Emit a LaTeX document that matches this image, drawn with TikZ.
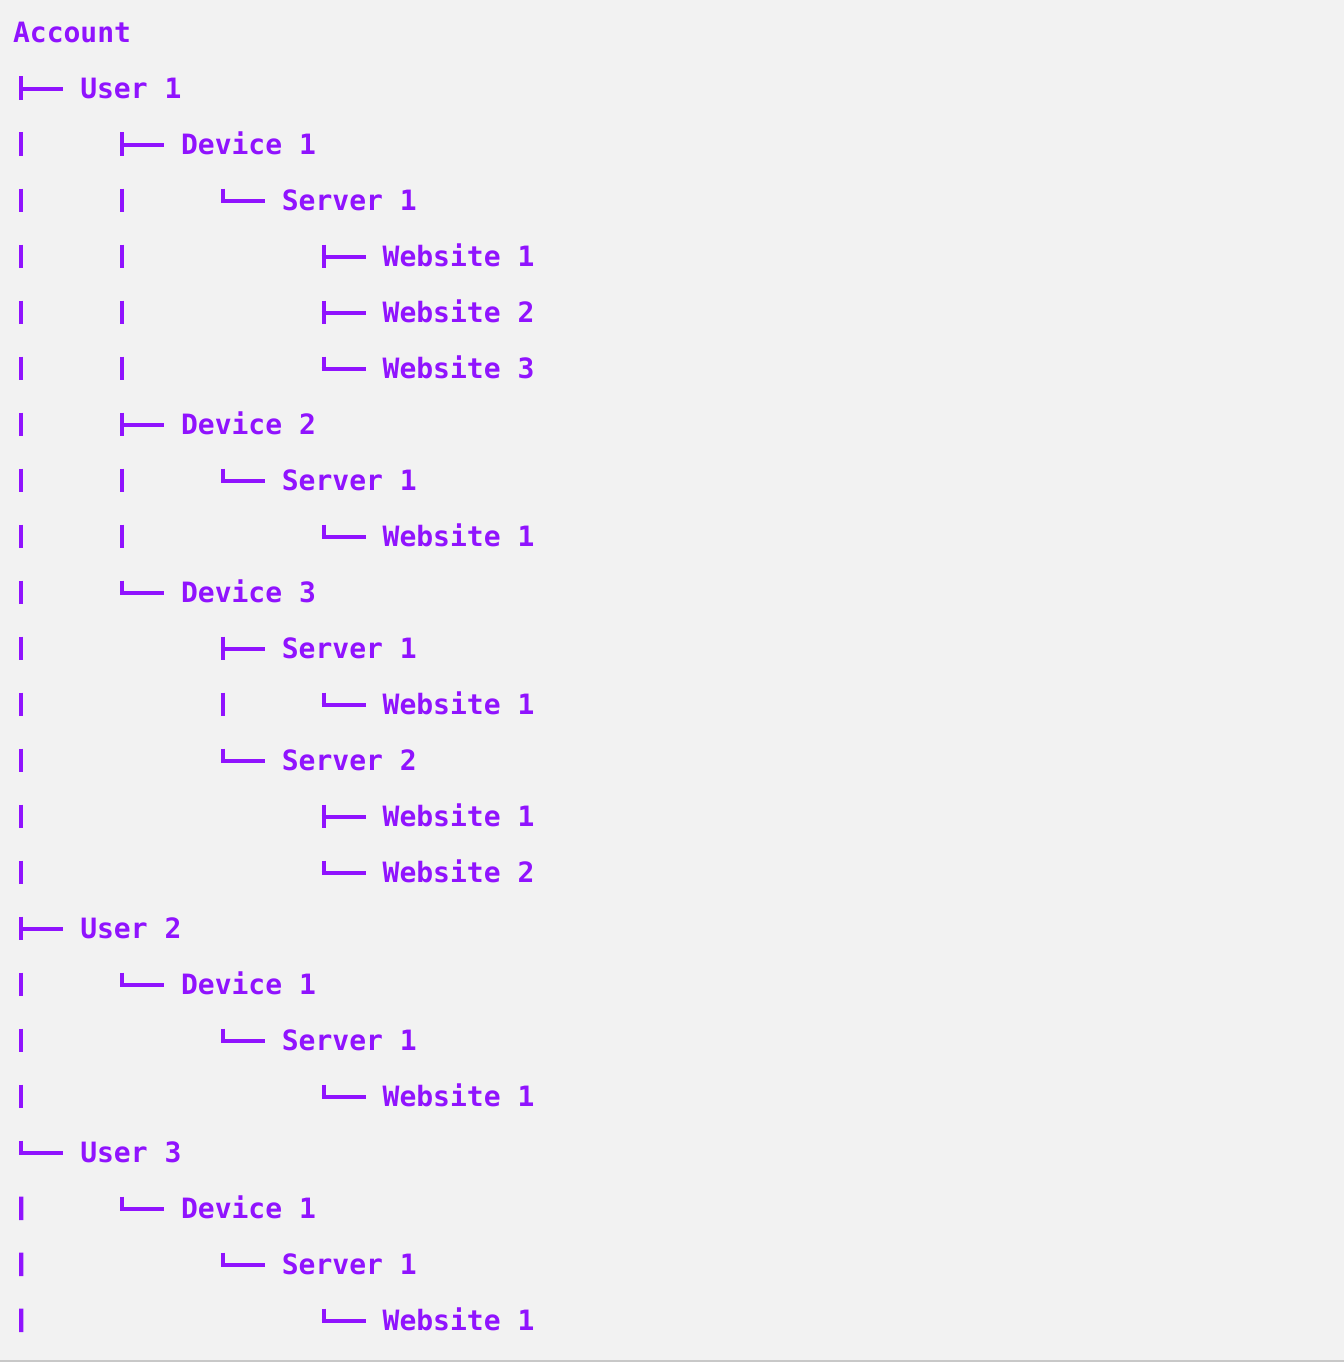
\documentclass[tikz,border=0pt]{standalone}
\usepackage{fontspec}
\usepackage{tikz}
\usetikzlibrary{calc}
\newfontfamily\treefont{DejaVu Sans Mono}

\definecolor{treepurple}{RGB}{144,19,254}
\definecolor{panelgray}{RGB}{242,242,242}
\definecolor{rimgray}{RGB}{200,200,200}

\tikzset{
  lbl/.style={anchor=base west,inner sep=0pt,text=treepurple,font=\treefont\bfseries\fontsize{21}{25}\selectfont},
  twig/.style={draw=treepurple,line width=3.1pt,line cap=butt},
  trunk/.style={twig,dash pattern=on 17.625pt off 24.375pt}
}

\begin{document}
\begin{tikzpicture}[x=0.75pt,y=0.75pt,yscale=-1,xscale=1]
\useasboundingbox (0,0) rectangle (1344,1366);

%Shape: Panel
\fill [panelgray] (0,0) rectangle (1344,1359.5);
\fill [rimgray] (0,1359.5) rectangle (1344,1361.5);

% Text Node
\node [lbl] (acc) at (12.8,42.5) {Account};
% Text Node
\node [lbl] (u1) at (80,98.5) {User 1};
\node [lbl] (u1d1) at (180.8,154.5) {Device 1};
\node [lbl] (u1d1s1) at (281.6,210.5) {Server 1};
\node [lbl] (u1d1s1w1) at (382.4,266.5) {Website 1};
\node [lbl] (u1d1s1w2) at (382.4,322.5) {Website 2};
\node [lbl] (u1d1s1w3) at (382.4,378.5) {Website 3};
\node [lbl] (u1d2) at (180.8,434.5) {Device 2};
\node [lbl] (u1d2s1) at (281.6,490.5) {Server 1};
\node [lbl] (u1d2s1w1) at (382.4,546.5) {Website 1};
\node [lbl] (u1d3) at (180.8,602.5) {Device 3};
\node [lbl] (u1d3s1) at (281.6,658.5) {Server 1};
\node [lbl] (u1d3s1w1) at (382.4,714.5) {Website 1};
\node [lbl] (u1d3s2) at (281.6,770.5) {Server 2};
\node [lbl] (u1d3s2w1) at (382.4,826.5) {Website 1};
\node [lbl] (u1d3s2w2) at (382.4,882.5) {Website 2};
% Text Node
\node [lbl] (u2) at (80,938.5) {User 2};
\node [lbl] (u2d1) at (180.8,994.5) {Device 1};
\node [lbl] (u2d1s1) at (281.6,1050.5) {Server 1};
\node [lbl] (u2d1s1w1) at (382.4,1106.5) {Website 1};
% Text Node
\node [lbl] (u3) at (80,1162.5) {User 3};
\node [lbl] (u3d1) at (180.8,1218.5) {Device 1};
\node [lbl] (u3d1s1) at (281.6,1274.5) {Server 1};
\node [lbl] (u3d1s1w1) at (382.4,1330.5) {Website 1};

\coordinate (tail) at (21.2,1332);

%Straight Lines (vertical bars)
\draw [trunk] ($(u1.base west)+(-58.8,-22)$) -- ($(u3.base west)+(-58.8,-9.8)$);
\draw [trunk] ($(u3.base west)+(-58.8,34)$) -- (tail);
\draw [trunk] ($(u1d1.base west)+(-58.8,-22)$) -- ($(u1d3.base west)+(-58.8,-9.8)$);
\draw [trunk] ($(u1d1s1.base west)+(-58.8,-22)$) -- ($(u1d1s1.base west)+(-58.8,-9.8)$);
\draw [trunk] ($(u1d1s1w1.base west)+(-58.8,-22)$) -- ($(u1d1s1w3.base west)+(-58.8,-9.8)$);
\draw [trunk] ($(u1d2s1.base west)+(-58.8,-22)$) -- ($(u1d2s1.base west)+(-58.8,-9.8)$);
\draw [trunk] ($(u1d2s1w1.base west)+(-58.8,-22)$) -- ($(u1d2s1w1.base west)+(-58.8,-9.8)$);
\draw [trunk] ($(u1d3s1.base west)+(-58.8,-22)$) -- ($(u1d3s2.base west)+(-58.8,-9.8)$);
\draw [trunk] ($(u1d3s1w1.base west)+(-58.8,-22)$) -- ($(u1d3s1w1.base west)+(-58.8,-9.8)$);
\draw [trunk] ($(u1d3s2w1.base west)+(-58.8,-22)$) -- ($(u1d3s2w2.base west)+(-58.8,-9.8)$);
\draw [trunk] ($(u2d1.base west)+(-58.8,-22)$) -- ($(u2d1.base west)+(-58.8,-9.8)$);
\draw [trunk] ($(u2d1s1.base west)+(-58.8,-22)$) -- ($(u2d1s1.base west)+(-58.8,-9.8)$);
\draw [trunk] ($(u2d1s1w1.base west)+(-58.8,-22)$) -- ($(u2d1s1w1.base west)+(-58.8,-9.8)$);
\draw [trunk] ($(u3d1.base west)+(-58.8,-22)$) -- ($(u3d1.base west)+(-58.8,-9.8)$);
\draw [trunk] ($(u3d1s1.base west)+(-58.8,-22)$) -- ($(u3d1s1.base west)+(-58.8,-9.8)$);
\draw [trunk] ($(u3d1s1w1.base west)+(-58.8,-22)$) -- ($(u3d1s1w1.base west)+(-58.8,-9.8)$);

%Straight Lines (branches)
\draw [twig] ($(u1.base west)+(-60.8,-9.8)$) -- ($(u1.base west)+(-16.8,-9.8)$);
\draw [twig] ($(u1d1.base west)+(-60.8,-9.8)$) -- ($(u1d1.base west)+(-16.8,-9.8)$);
\draw [twig] ($(u1d1s1.base west)+(-60.8,-9.8)$) -- ($(u1d1s1.base west)+(-16.8,-9.8)$);
\draw [twig] ($(u1d1s1w1.base west)+(-60.8,-9.8)$) -- ($(u1d1s1w1.base west)+(-16.8,-9.8)$);
\draw [twig] ($(u1d1s1w2.base west)+(-60.8,-9.8)$) -- ($(u1d1s1w2.base west)+(-16.8,-9.8)$);
\draw [twig] ($(u1d1s1w3.base west)+(-60.8,-9.8)$) -- ($(u1d1s1w3.base west)+(-16.8,-9.8)$);
\draw [twig] ($(u1d2.base west)+(-60.8,-9.8)$) -- ($(u1d2.base west)+(-16.8,-9.8)$);
\draw [twig] ($(u1d2s1.base west)+(-60.8,-9.8)$) -- ($(u1d2s1.base west)+(-16.8,-9.8)$);
\draw [twig] ($(u1d2s1w1.base west)+(-60.8,-9.8)$) -- ($(u1d2s1w1.base west)+(-16.8,-9.8)$);
\draw [twig] ($(u1d3.base west)+(-60.8,-9.8)$) -- ($(u1d3.base west)+(-16.8,-9.8)$);
\draw [twig] ($(u1d3s1.base west)+(-60.8,-9.8)$) -- ($(u1d3s1.base west)+(-16.8,-9.8)$);
\draw [twig] ($(u1d3s1w1.base west)+(-60.8,-9.8)$) -- ($(u1d3s1w1.base west)+(-16.8,-9.8)$);
\draw [twig] ($(u1d3s2.base west)+(-60.8,-9.8)$) -- ($(u1d3s2.base west)+(-16.8,-9.8)$);
\draw [twig] ($(u1d3s2w1.base west)+(-60.8,-9.8)$) -- ($(u1d3s2w1.base west)+(-16.8,-9.8)$);
\draw [twig] ($(u1d3s2w2.base west)+(-60.8,-9.8)$) -- ($(u1d3s2w2.base west)+(-16.8,-9.8)$);
\draw [twig] ($(u2.base west)+(-60.8,-9.8)$) -- ($(u2.base west)+(-16.8,-9.8)$);
\draw [twig] ($(u2d1.base west)+(-60.8,-9.8)$) -- ($(u2d1.base west)+(-16.8,-9.8)$);
\draw [twig] ($(u2d1s1.base west)+(-60.8,-9.8)$) -- ($(u2d1s1.base west)+(-16.8,-9.8)$);
\draw [twig] ($(u2d1s1w1.base west)+(-60.8,-9.8)$) -- ($(u2d1s1w1.base west)+(-16.8,-9.8)$);
\draw [twig] ($(u3.base west)+(-60.8,-9.8)$) -- ($(u3.base west)+(-16.8,-9.8)$);
\draw [twig] ($(u3d1.base west)+(-60.8,-9.8)$) -- ($(u3d1.base west)+(-16.8,-9.8)$);
\draw [twig] ($(u3d1s1.base west)+(-60.8,-9.8)$) -- ($(u3d1s1.base west)+(-16.8,-9.8)$);
\draw [twig] ($(u3d1s1w1.base west)+(-60.8,-9.8)$) -- ($(u3d1s1w1.base west)+(-16.8,-9.8)$);

\end{tikzpicture}
\end{document}
